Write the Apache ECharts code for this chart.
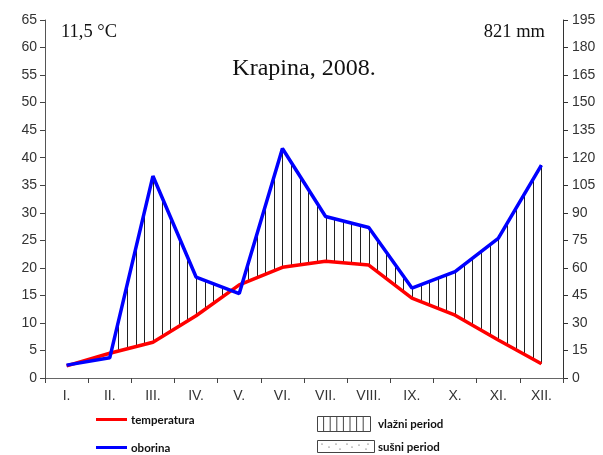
<!DOCTYPE html>
<html><head><meta charset="utf-8">
<script src="https://cdn.jsdelivr.net/npm/echarts@6/dist/echarts.min.js"></script>
<style>html,body{margin:0;padding:0;background:#fff}#c{width:603px;height:455px}</style>
</head><body><div id="c"></div>
<script>
const months = ['I.','II.','III.','IV.','V.','VI.','VII.','VIII.','IX.','X.','XI.','XII.'];
const temperature = [2.2, 4.5, 6.5, 11.3, 16.9, 20.1, 21.2, 20.5, 14.5, 11.4, 6.9, 2.6];
const precipitation = [7, 11, 110, 55, 46, 125, 88, 82, 49, 58, 76, 116];
const title = 'Krapina, 2008.';
const meanTemp = '11,5 °C';
const totalPrec = '821 mm';

const chart = echarts.init(document.getElementById('c'), null, {renderer:'canvas'});
const STEPS = 5;
const hatchData = months.slice(0, -1).map((m, i) => [i, 0]);

function renderHatch(params, api) {
  const i = api.value(0);
  const p0 = api.coord([i, temperature[i]]);
  const p1 = api.coord([i + 1, temperature[i + 1]]);
  const q0 = api.coord([i, precipitation[i] / 3]);
  const q1 = api.coord([i + 1, precipitation[i + 1] / 3]);
  const children = [];
  const last = (i === months.length - 2) ? STEPS : STEPS - 1;
  for (let k = 0; k <= last; k++) {
    const t = k / STEPS;
    const x = Math.round(p0[0] + (p1[0] - p0[0]) * t) + 0.5;
    const yr = p0[1] + (p1[1] - p0[1]) * t;
    const yb = q0[1] + (q1[1] - q0[1]) * t;
    if (yb < yr - 2) {
      children.push({type:'line', shape:{x1:x, y1:yr, x2:x, y2:yb},
        style:{stroke:'#222', lineWidth:1}});
    }
  }
  return {type:'group', children};
}

const sans = 'Liberation Sans, Arial, sans-serif';
const serif = 'Liberation Serif, Times New Roman, serif';
const legFont = 'bold 11.5px Lato, sans-serif';

const hatchBox = [];
for (let k = 1; k < 8; k++) {
  hatchBox.push({type:'line', shape:{x1:317 + k*6.6, y1:417, x2:317 + k*6.6, y2:432},
    style:{stroke:'#444', lineWidth:1}});
}
const dots = [[322,444],[329,447],[336,444],[340,449],[347,444],[352,447],[359,445],[366,449],[368,444]];

chart.setOption({
  animation:false,
  backgroundColor:'#fff',
  grid:{left:45, right:40, top:20, bottom:77},
  xAxis:{type:'category', data:months, boundaryGap:true,
    axisLine:{lineStyle:{color:'#666', width:1}},
    axisTick:{show:true, length:5, lineStyle:{color:'#444'}},
    axisLabel:{color:'#333', fontFamily:sans, fontSize:14, margin:11}},
  yAxis:[
    {type:'value', min:0, max:65, interval:5, splitLine:{show:false},
      axisLine:{show:true, lineStyle:{color:'#555'}},
      axisTick:{show:true, length:5, lineStyle:{color:'#444'}},
      axisLabel:{color:'#333', fontFamily:sans, fontSize:14, margin:8}},
    {type:'value', min:0, max:195, interval:15, position:'right', splitLine:{show:false},
      axisLine:{show:true, lineStyle:{color:'#333'}},
      axisTick:{show:true, length:5, lineStyle:{color:'#333'}},
      axisLabel:{color:'#333', fontFamily:sans, fontSize:14, margin:9}}
  ],
  series:[
    {type:'custom', name:'hatch', renderItem:renderHatch, data:hatchData,
      encode:{x:0, y:1}, yAxisIndex:0, z:1, silent:true},
    {type:'line', name:'temperatura', data:temperature, yAxisIndex:0, symbol:'none',
      lineStyle:{color:'#ff0000', width:3.5}, z:3},
    {type:'line', name:'oborina', data:precipitation, yAxisIndex:1, symbol:'none',
      lineStyle:{color:'#0000ff', width:3.5}, z:4}
  ],
  graphic:[
    {type:'text', left:61, top:23, style:{text:meanTemp, font:'18.5px '+serif, fill:'#111'}},
    {type:'text', right:58, top:23, style:{text:totalPrec, font:'18.5px '+serif, fill:'#111'}},
    {type:'text', x:304, y:69, style:{text:title, font:'24px '+serif, fill:'#111', align:'center', verticalAlign:'middle'}},
    {type:'line', shape:{x1:96, y1:419.5, x2:127, y2:419.5}, style:{stroke:'#ff0000', lineWidth:3}},
    {type:'text', x:131, y:420, style:{text:'temperatura', font:legFont, fill:'#111', verticalAlign:'middle'}},
    {type:'line', shape:{x1:96, y1:447.5, x2:127, y2:447.5}, style:{stroke:'#0000ff', lineWidth:3}},
    {type:'text', x:131, y:448, style:{text:'oborina', font:legFont, fill:'#111', verticalAlign:'middle'}},
    {type:'rect', shape:{x:317.5, y:416.5, width:53, height:15}, style:{fill:'#fff', stroke:'#444', lineWidth:1}},
    {type:'group', children:hatchBox},
    {type:'text', x:378, y:424, style:{text:'vlažni period', font:legFont, fill:'#111', verticalAlign:'middle'}},
    {type:'rect', shape:{x:317.5, y:440.5, width:57, height:12}, style:{fill:'#fff', stroke:'#444', lineWidth:1}},
    {type:'group', children:dots.map(d => ({type:'circle', shape:{cx:d[0], cy:d[1], r:0.6}, style:{fill:'#333'}}))},
    {type:'text', x:378, y:447, style:{text:'sušni period', font:legFont, fill:'#111', verticalAlign:'middle'}}
  ]
});
</script></body></html>
